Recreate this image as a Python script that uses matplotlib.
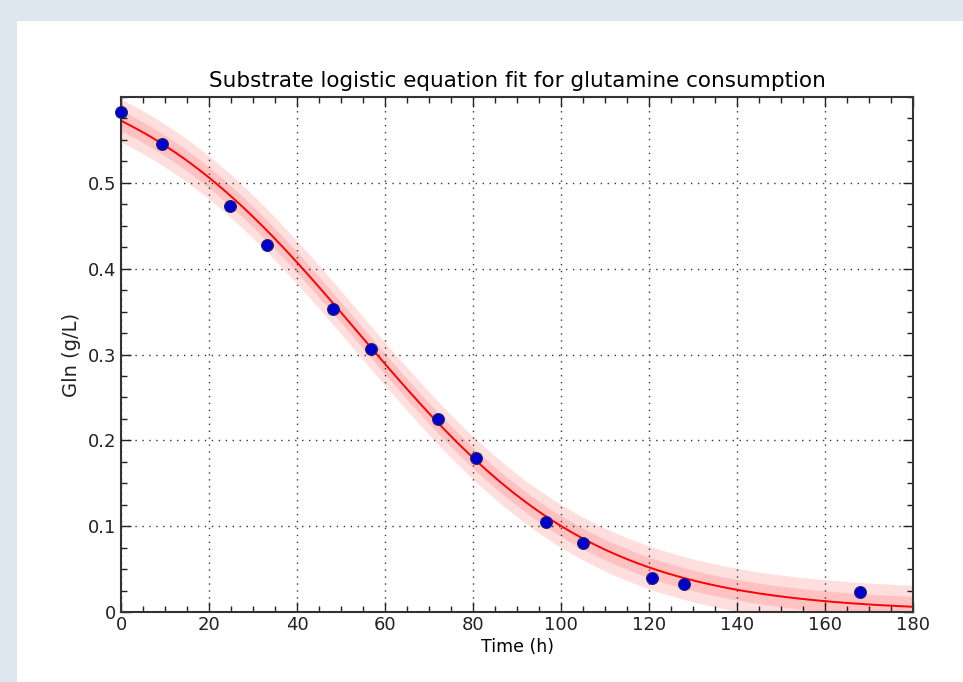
import numpy as np
import matplotlib
matplotlib.use("Agg")
from matplotlib import pyplot as plt
from matplotlib.patches import Rectangle
from matplotlib.ticker import MultipleLocator

# measured glutamine (g/L) vs time (h)
time_h = [0.0, 9.25, 24.75, 33.25, 48.25, 56.75, 72.0, 80.75, 96.5, 105.0, 120.75, 128.0, 168.0]
gln = [0.582, 0.545, 0.473, 0.428, 0.353, 0.306, 0.225, 0.180, 0.105, 0.080, 0.040, 0.033, 0.023]

# logistic fit parameters: S = s_max / (1 + exp(rate * (t - t_mid)))
s_max = 0.65
rate = 0.037
t_mid = 54.0
band_inner = 0.012
band_outer = 0.025

xticks = [0, 20, 40, 60, 80, 100, 120, 140, 160, 180]
yticks = [0, 0.1, 0.2, 0.3, 0.4, 0.5]
ytick_labels = ['0', '0.1', '0.2', '0.3', '0.4', '0.5']

t_fit = np.linspace(0, 180, 400)
s_fit = s_max / (1 + np.exp(rate * (t_fit - t_mid)))

fig = plt.figure(figsize=(9.63, 6.82), dpi=100)
fig.patch.set_facecolor('#dce7f0')
# white page area like the screenshot
fig.patches.append(Rectangle((17 / 963, 0), 1, 1 - 21 / 682, transform=fig.transFigure,
                             facecolor='white', edgecolor='none', zorder=-10))

ax = fig.add_axes([121 / 963, 70 / 682, 792 / 963, 515 / 682])
ax.set_zorder(5)
ax.fill_between(t_fit, s_fit - band_outer, s_fit + band_outer, color='red', alpha=0.13, lw=0)
ax.fill_between(t_fit, s_fit - band_inner, s_fit + band_inner, color='red', alpha=0.13, lw=0)
ax.plot(t_fit, s_fit, color='red', lw=1.4)
ax.plot(time_h, gln, 'o', color='#0000cc', markeredgecolor='#222266', markeredgewidth=0.8,
        markersize=8.5, clip_on=False, zorder=5)

ax.set_xlim(0, 180)
ax.set_ylim(0, 0.6)
ax.set_xticks(xticks)
ax.set_yticks(yticks)
ax.set_yticklabels(ytick_labels)
ax.xaxis.set_minor_locator(MultipleLocator(5))
ax.yaxis.set_minor_locator(MultipleLocator(0.025))
ax.tick_params(which='both', direction='in', top=True, right=True, labelsize=13, colors='#222222')
ax.tick_params(which='major', length=7, width=1)
ax.tick_params(which='minor', length=4, width=1)
ax.tick_params(axis='x', pad=3)
ax.grid(True, which='major', color='#333333', linestyle=(0, (1, 4)), linewidth=1.0)
for sp in ax.spines.values():
    sp.set_linewidth(1.5)
    sp.set_color('#333333')

ax.set_title('Substrate logistic equation fit for glutamine consumption', fontsize=15.5, pad=7)
ax.set_xlabel('Time (h)', fontsize=12.5, labelpad=3)
ax.set_ylabel('Gln (g/L)', fontsize=14, labelpad=5, color='#222222')

plt.savefig('out.png', dpi=100, facecolor=fig.get_facecolor())
